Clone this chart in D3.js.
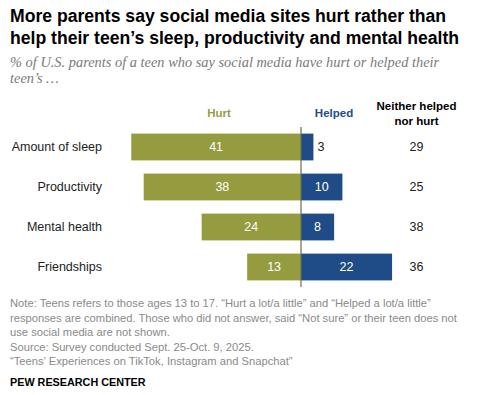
<!DOCTYPE html>
<html>
<head>
<meta charset="utf-8">
<script src="https://cdn.jsdelivr.net/npm/d3@7"></script>
<style>
  body { margin: 0; background: #fff; }
  svg text { font-family: "Liberation Sans", Arial, sans-serif; }
</style>
</head>
<body>
<div id="viz"></div>
<script>
const width = 483;
const height = 395;

// data
const categories = ['Amount of sleep', 'Productivity', 'Mental health', 'Friendships'];
const hurt = [41, 38, 24, 13];
const helped = [3, 10, 8, 22];
const neither = [29, 25, 38, 36];

const titleLines = [
  'More parents say social media sites hurt rather than',
  'help their teen\u2019s sleep, productivity and mental health'
];
const subtitleLines = [
  '% of U.S. parents of a teen who say social media have hurt or helped their',
  'teen\u2019s \u2026'
];
const noteLines = [
  'Note: Teens refers to those ages 13 to 17. \u201cHurt a lot/a little\u201d and \u201cHelped a lot/a little\u201d',
  'responses are combined. Those who did not answer, said \u201cNot sure\u201d or their teen does not',
  'use social media are not shown.',
  'Source: Survey conducted Sept. 25-Oct. 9, 2025.',
  '\u201cTeens\u2019 Experiences on TikTok, Instagram and Snapchat\u201d'
];

const hurtColor = '#959b3f';
const helpedColor = '#1f4b87';

const rows = categories.map((c, i) => ({ cat: c, hurt: hurt[i], helped: helped[i], neither: neither[i] }));

const svg = d3.select('#viz')
  .append('svg')
    .attr('width', width)
    .attr('height', height)
    .attr('viewBox', [0, 0, width, height]);

// title
svg.append('g')
  .selectAll('text')
  .data(titleLines)
  .join('text')
    .attr('x', 10)
    .attr('y', (d, i) => 22 + i * 21.5)
    .style('font-size', '17.6px')
    .style('font-weight', 'bold')
    .attr('fill', '#000')
    .text(d => d);

// subtitle
svg.append('g')
  .selectAll('text')
  .data(subtitleLines)
  .join('text')
    .attr('x', 10)
    .attr('y', (d, i) => 67 + i * 16)
    .style('font-family', '"Liberation Serif", "Times New Roman", serif')
    .style('font-style', 'italic')
    .style('font-size', '14.4px')
    .attr('fill', '#7a7a7a')
    .text(d => d);

// scales
const center = 301;
const x = d3.scaleLinear().domain([0, 10]).range([0, 41.4]);
const y = d3.scaleBand()
  .domain(categories)
  .range([127, 287])
  .paddingInner(0.33)
  .paddingOuter(0.165);

const chart = svg.append('g');

// hurt bars
chart.selectAll('rect.hurt')
  .data(rows)
  .join('rect')
    .attr('class', 'hurt')
    .attr('x', d => center - x(d.hurt))
    .attr('y', d => y(d.cat))
    .attr('width', d => x(d.hurt))
    .attr('height', y.bandwidth())
    .attr('fill', hurtColor);

// helped bars
chart.selectAll('rect.helped')
  .data(rows)
  .join('rect')
    .attr('class', 'helped')
    .attr('x', center)
    .attr('y', d => y(d.cat))
    .attr('width', d => x(d.helped))
    .attr('height', y.bandwidth())
    .attr('fill', helpedColor);

// center line
chart.append('line')
  .attr('x1', center).attr('x2', center)
  .attr('y1', 127).attr('y2', 287)
  .attr('stroke', '#6e6b52')
  .attr('stroke-width', 1.2);

// category labels
chart.selectAll('text.cat')
  .data(rows)
  .join('text')
    .attr('class', 'cat')
    .attr('x', 102)
    .attr('y', d => y(d.cat) + y.bandwidth() / 2)
    .attr('dy', '0.35em')
    .attr('text-anchor', 'end')
    .style('font-size', '12.5px')
    .attr('fill', '#222')
    .text(d => d.cat);

// hurt values
chart.selectAll('text.hurtv')
  .data(rows)
  .join('text')
    .attr('class', 'hurtv')
    .attr('x', d => center - x(d.hurt) / 2)
    .attr('y', d => y(d.cat) + y.bandwidth() / 2)
    .attr('dy', '0.35em')
    .attr('text-anchor', 'middle')
    .style('font-size', '12.5px')
    .attr('fill', '#fff')
    .text(d => d.hurt);

// helped values (outside when bar too small)
chart.selectAll('text.helpedv')
  .data(rows)
  .join('text')
    .attr('class', 'helpedv')
    .attr('x', d => d.helped < 5 ? center + x(d.helped) + 4 : center + x(d.helped) / 2)
    .attr('y', d => y(d.cat) + y.bandwidth() / 2)
    .attr('dy', '0.35em')
    .attr('text-anchor', d => d.helped < 5 ? 'start' : 'middle')
    .style('font-size', '12.5px')
    .attr('fill', d => d.helped < 5 ? '#222' : '#fff')
    .text(d => d.helped);

// neither values
chart.selectAll('text.neither')
  .data(rows)
  .join('text')
    .attr('class', 'neither')
    .attr('x', 416.5)
    .attr('y', d => y(d.cat) + y.bandwidth() / 2)
    .attr('dy', '0.35em')
    .attr('text-anchor', 'middle')
    .style('font-size', '12.5px')
    .attr('fill', '#222')
    .text(d => d.neither);

// column headers
const headers = svg.append('g')
  .style('font-size', '11.5px')
  .style('font-weight', 'bold')
  .attr('text-anchor', 'middle');
headers.append('text').attr('x', 219).attr('y', 117).attr('fill', hurtColor).text('Hurt');
headers.append('text').attr('x', 334).attr('y', 117).attr('fill', helpedColor).text('Helped');
headers.append('text').attr('x', 416.5).attr('y', 110).attr('fill', '#000').text('Neither helped');
headers.append('text').attr('x', 416.5).attr('y', 124.5).attr('fill', '#000').text('nor hurt');

// notes
svg.append('g')
  .selectAll('text')
  .data(noteLines)
  .join('text')
    .attr('x', 10)
    .attr('y', (d, i) => 307 + i * 14.6)
    .style('font-size', '11.2px')
    .attr('fill', '#8a8a8a')
    .text(d => d);

svg.append('text')
  .attr('x', 10)
  .attr('y', 386)
  .style('font-size', '10.8px')
  .style('font-weight', 'bold')
  .attr('fill', '#000')
  .text('PEW RESEARCH CENTER');
</script>
</body>
</html>
